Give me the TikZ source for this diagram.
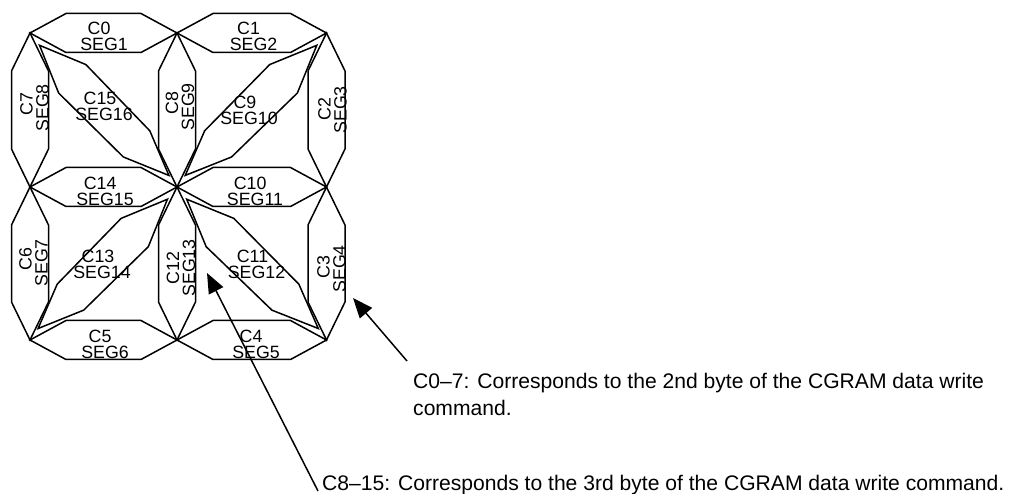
\documentclass[tikz,border=0pt]{standalone}
\usepackage{fontspec}
\setmainfont{Liberation Sans}
\usetikzlibrary{arrows.meta}
\tikzset{
  seg/.style={draw=black, line width=1.5pt},
  lbl/.style={font=\fontsize{17.8}{16}\selectfont, align=center, inner sep=0pt},
  vlbl/.style={lbl, rotate=90},
  note/.style={font=\fontsize{21.1}{26.5}\selectfont, align=left, inner sep=0pt},
  pointer/.style={line width=1.5pt, -{Triangle[length=20pt,width=16pt]}},
}
% horizontal hexagon: xa, xb, y
\newcommand\HexH[3]{\draw[seg] (#1,#3) -- ({#1+36},{#3-19.5}) -- ({#2-36},{#3-19.5}) -- (#2,#3) -- ({#2-36},{#3+19.5}) -- ({#1+36},{#3+19.5}) -- cycle;}
% vertical hexagon: x, ya, yb
\newcommand\HexV[3]{\draw[seg] (#1,#2) -- ({#1+18.5},{#2+38}) -- ({#1+18.5},{#3-38}) -- (#1,#3) -- ({#1-18.5},{#3-38}) -- ({#1-18.5},{#2+38}) -- cycle;}
% diagonal "\" : xa, ya, xb, yb
\newcommand\HexD[4]{\draw[seg]
  ({#1+0.065*(#3-#1)},{#2+0.08*(#4-#2)}) --
  ({#1+0.38*(#3-#1)},{#2+0.205*(#4-#2)}) --
  ({#1+0.815*(#3-#1)},{#2+0.635*(#4-#2)}) --
  ({#1+0.945*(#3-#1)},{#2+0.925*(#4-#2)}) --
  ({#1+0.635*(#3-#1)},{#2+0.805*(#4-#2)}) --
  ({#1+0.195*(#3-#1)},{#2+0.39*(#4-#2)}) -- cycle;}
% diagonal "/" : xa, ya, xb, yb
\newcommand\HexA[4]{\draw[seg]
  ({#3-0.065*(#3-#1)},{#2+0.08*(#4-#2)}) --
  ({#3-0.38*(#3-#1)},{#2+0.205*(#4-#2)}) --
  ({#3-0.815*(#3-#1)},{#2+0.635*(#4-#2)}) --
  ({#3-0.945*(#3-#1)},{#2+0.925*(#4-#2)}) --
  ({#3-0.635*(#3-#1)},{#2+0.805*(#4-#2)}) --
  ({#3-0.195*(#3-#1)},{#2+0.39*(#4-#2)}) -- cycle;}
\begin{document}
\begin{tikzpicture}[x=1pt,y=-1pt]
\useasboundingbox (0,0) rectangle (1015,494);
% segments
\HexH{30}{177}{33}
\HexH{177}{326.5}{33}
\HexH{30}{177}{187}
\HexH{177}{326.5}{187}
\HexH{30}{177}{340}
\HexH{177}{326.5}{340}
\HexV{30}{33}{187}
\HexV{177}{33}{187}
\HexV{326.5}{33}{187}
\HexV{30}{187}{340}
\HexV{177}{187}{340}
\HexV{326.5}{187}{340}
\HexD{30}{33}{177}{187}
\HexA{177}{33}{326.5}{187}
\HexA{30}{187}{177}{340}
\HexD{177}{187}{326.5}{340}
% labels
\node[lbl] (c0) at (104,36.5) {C0\hspace*{0.55em}\\SEG1};
\node[lbl] (c1) at (253.5,36.5) {C1\hspace*{0.55em}\\SEG2};
\node[lbl] (c14) at (105,191) {C14\hspace*{0.55em}\\SEG15};
\node[lbl] (c10) at (255,191) {C10\hspace*{0.55em}\\SEG11};
\node[lbl] (c5) at (105,344) {C5\hspace*{0.55em}\\SEG6};
\node[lbl] (c4) at (256,344.5) {C4\hspace*{0.55em}\\SEG5};
\node[vlbl] (c7) at (34.5,108) {\hspace*{0.4em}C7\\SEG8};
\node[vlbl] (c8) at (180,107) {\hspace*{0.4em}C8\\SEG9};
\node[vlbl] (c2) at (332.5,110) {\hspace*{0.1em}C2\\SEG3};
\node[vlbl] (c6) at (33.5,263) {\hspace*{0.4em}C6\\SEG7};
\node[vlbl] (c12) at (181,268) {C12\\SEG13};
\node[vlbl] (c3) at (331.5,269) {\hspace*{0.2em}C3\\SEG4};
\node[lbl] (c15) at (104,106) {C15\hspace*{0.45em}\\SEG16};
\node[lbl] (c9) at (249,110) {C9\hspace*{0.45em}\\SEG10};
\node[lbl] (c13) at (102,264) {C13\hspace*{0.45em}\\SEG14};
\node[lbl] (c11) at (256.5,264) {C11\hspace*{0.45em}\\SEG12};
% notes
\node[note, anchor=north west] (n1) at (413,373.5) {C0–7: Corresponds to the 2nd byte of the CGRAM data write\\command.};
\node[note, anchor=base west] (n2) at (322,490) {C8–15: Corresponds to the 3rd byte of the CGRAM data write command.};
% pointers
\coordinate (t1) at (407,361);
\coordinate (h1) at (353,298);
\draw[pointer] (t1) -- (h1);
\coordinate (t2) at (318,491);
\coordinate (h2) at (207,273);
\draw[pointer] (t2) -- (h2);
\end{tikzpicture}
\end{document}
